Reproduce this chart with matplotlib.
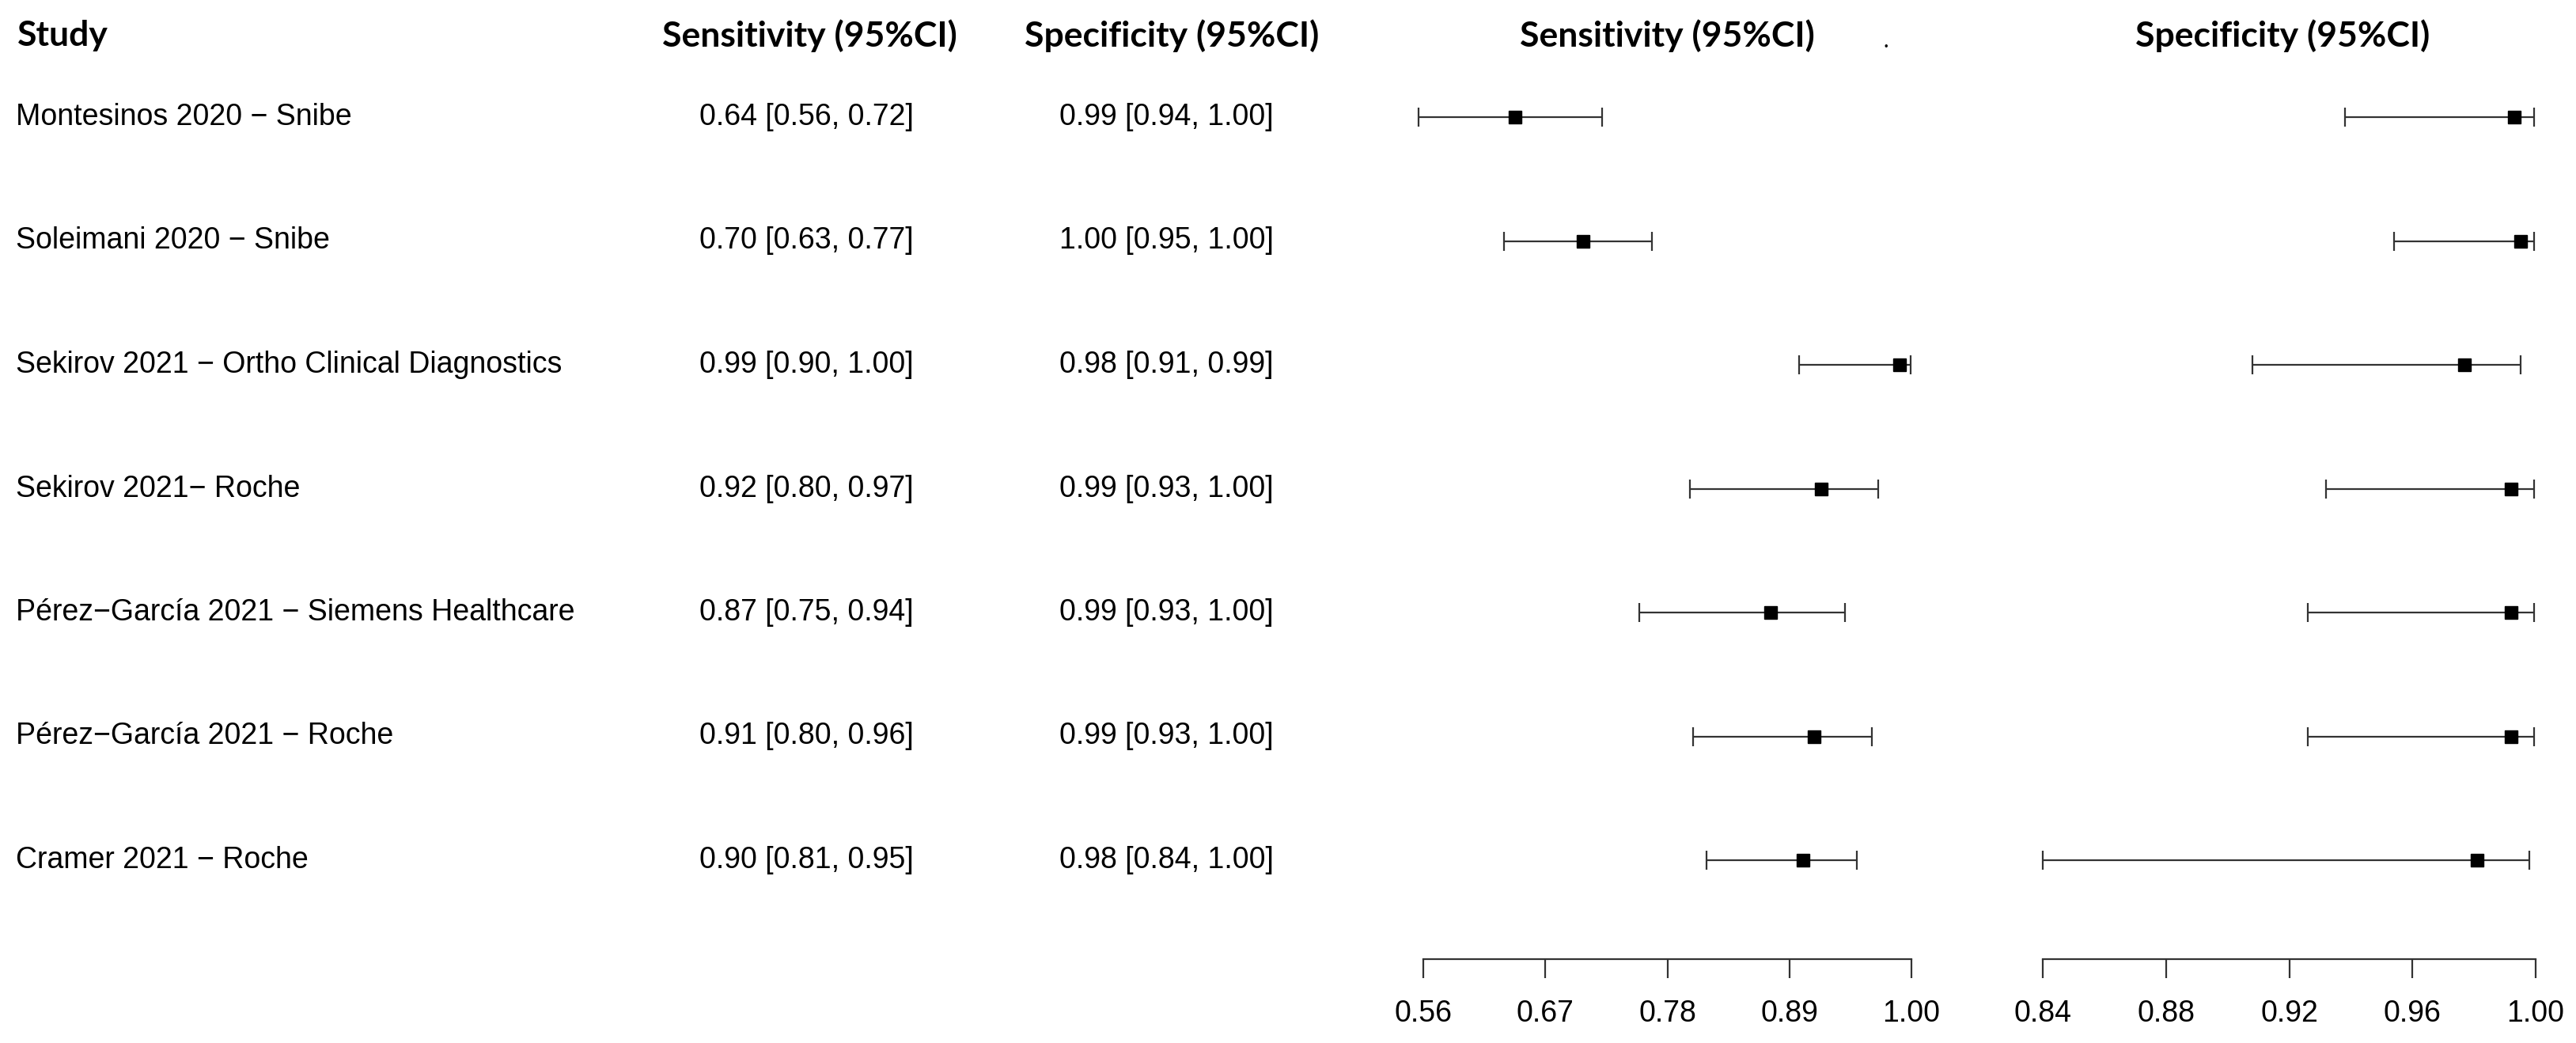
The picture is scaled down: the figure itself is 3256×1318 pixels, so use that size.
import matplotlib
matplotlib.use("Agg")
import matplotlib.pyplot as plt

# data
studies = ["Montesinos 2020 \u2212 Snibe",
           "Soleimani 2020 \u2212 Snibe",
           "Sekirov 2021 \u2212 Ortho Clinical Diagnostics",
           "Sekirov 2021\u2212 Roche",
           "P\u00e9rez\u2212Garc\u00eda 2021 \u2212 Siemens Healthcare",
           "P\u00e9rez\u2212Garc\u00eda 2021 \u2212 Roche",
           "Cramer 2021 \u2212 Roche"]

sens_txt = ["0.64 [0.56, 0.72]", "0.70 [0.63, 0.77]", "0.99 [0.90, 1.00]",
            "0.92 [0.80, 0.97]", "0.87 [0.75, 0.94]", "0.91 [0.80, 0.96]",
            "0.90 [0.81, 0.95]"]
spec_txt = ["0.99 [0.94, 1.00]", "1.00 [0.95, 1.00]", "0.98 [0.91, 0.99]",
            "0.99 [0.93, 1.00]", "0.99 [0.93, 1.00]", "0.99 [0.93, 1.00]",
            "0.98 [0.84, 1.00]"]

sens = [0.643, 0.704, 0.989, 0.919, 0.873, 0.912, 0.902]
sens_lo = [0.556, 0.633, 0.899, 0.800, 0.755, 0.803, 0.815]
sens_hi = [0.721, 0.766, 0.999, 0.970, 0.940, 0.964, 0.951]

spec = [0.993, 0.995, 0.977, 0.992, 0.992, 0.992, 0.981]
spec_lo = [0.938, 0.954, 0.908, 0.932, 0.926, 0.926, 0.840]
spec_hi = [0.9995, 0.9995, 0.995, 0.9995, 0.9995, 0.9995, 0.998]

sens_ticks = [0.56, 0.67, 0.78, 0.89, 1.00]
spec_ticks = [0.84, 0.88, 0.92, 0.96, 1.00]

W, H = 3256, 1318
fig = plt.figure(figsize=(W / 100, H / 100), dpi=100)

body = ["Liberation Sans", "DejaVu Sans"]
head = ["Lato", "DejaVu Sans"]
fs = 27
hfs = 32

n = len(studies)
rows = [n - i for i in range(n)]          # 7 at top ... 1 at bottom
row_px = 156.5
top_row_px = 148
axis_px = 1212
y_bot = n - (axis_px - top_row_px) / row_px
y_top = n + top_row_px / row_px
bottom = (H - axis_px) / H


def y_of(px):
    return n + (top_row_px - px) / row_px


# text columns
ax_t = fig.add_axes([0, bottom, 1, 1 - bottom])
ax_t.set_xlim(0, W)
ax_t.set_ylim(y_bot, y_top)
ax_t.axis("off")

for i in range(n):
    ax_t.text(20, rows[i], studies[i], fontsize=fs, family=body, va="center", ha="left")
    ax_t.text(1019, rows[i], sens_txt[i], fontsize=fs, family=body, va="center", ha="center")
    ax_t.text(1474, rows[i], spec_txt[i], fontsize=fs, family=body, va="center", ha="center")

hy = y_of(45)
ax_t.text(22, hy, "Study", fontsize=hfs, family=head, weight="bold", va="center", ha="left")
ax_t.text(1023, hy, "Sensitivity (95%CI)", fontsize=hfs, family=head, weight="bold", va="center", ha="center")
ax_t.text(1481, hy, "Specificity (95%CI)", fontsize=hfs, family=head, weight="bold", va="center", ha="center")
ax_t.text(2107, hy, "Sensitivity (95%CI)", fontsize=hfs, family=head, weight="bold", va="center", ha="center")
ax_t.text(2885, hy, "Specificity (95%CI)", fontsize=hfs, family=head, weight="bold", va="center", ha="center")
ax_t.text(2384, y_of(52), ".", fontsize=20, family=head, va="center", ha="center")


def forest(px0, px1, v0, v1, pad, est, lo, hi, ticks):
    ppu = (px1 - px0) / (v1 - v0)
    left = px0 - pad * ppu
    right = px1 + pad * ppu
    ax = fig.add_axes([left / W, bottom, (right - left) / W, 1 - bottom])
    ax.set_xlim(v0 - pad, v1 + pad)
    ax.set_ylim(y_bot, y_top)
    ax.errorbar(est, rows, xerr=[[e - l for e, l in zip(est, lo)],
                                 [h - e for e, h in zip(est, hi)]],
                fmt="none", ecolor="#333333", elinewidth=1.6, capsize=8.5, capthick=1.6)
    ax.plot(est, rows, ls="none", marker="s", ms=12, color="black")
    for s in ["top", "right", "left"]:
        ax.spines[s].set_visible(False)
    ax.spines["bottom"].set_bounds(ticks[0], ticks[-1])
    ax.spines["bottom"].set_linewidth(1.6)
    ax.spines["bottom"].set_color("#333333")
    ax.set_yticks([])
    ax.set_xticks(ticks)
    ax.set_xticklabels(["%.2f" % t for t in ticks], fontsize=fs, family=body)
    ax.tick_params(axis="x", length=17, width=1.6, color="#333333", pad=20)
    ax.patch.set_alpha(0)
    return ax


forest(1799, 2416, 0.56, 1.00, 0.02, sens, sens_lo, sens_hi, sens_ticks)
forest(2582, 3205, 0.84, 1.00, 0.005, spec, spec_lo, spec_hi, spec_ticks)

fig.savefig("out.png", dpi=100, facecolor="white")
